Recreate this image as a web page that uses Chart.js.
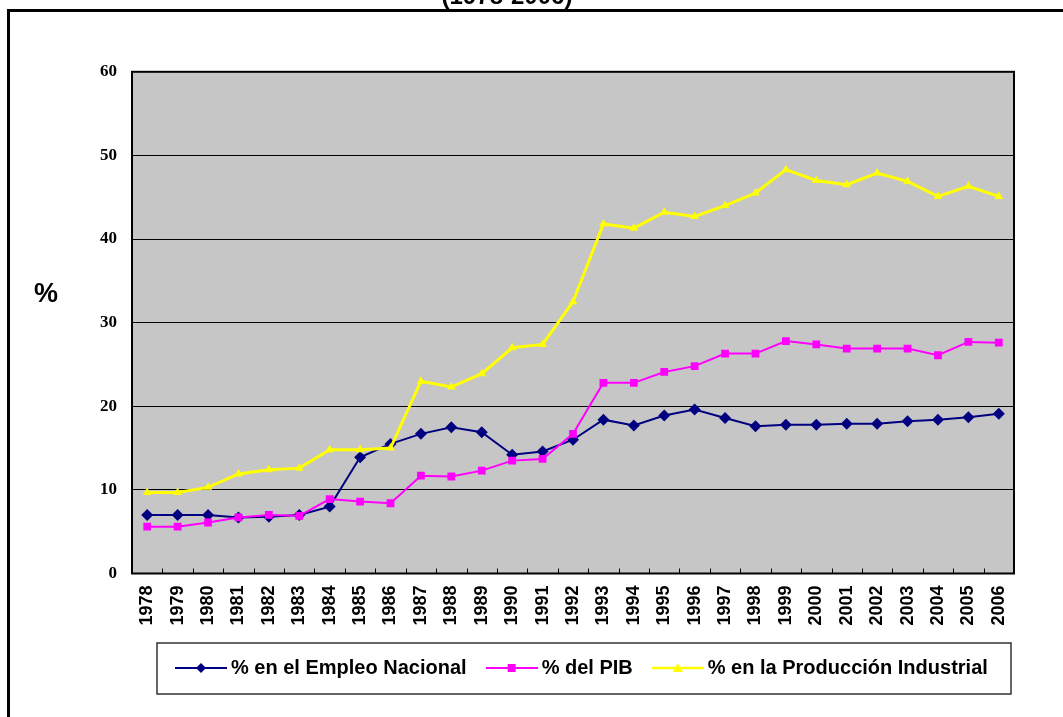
<!DOCTYPE html>
<html><head><meta charset="utf-8">
<script src="https://cdn.jsdelivr.net/npm/chart.js@4/dist/chart.umd.min.js"></script>
<style>
html,body{margin:0;padding:0;background:#fff;overflow:hidden;width:1063px;height:717px;}
#frame{position:absolute;left:7px;top:9px;width:2000px;height:2000px;border-left:3px solid #000;border-top:3px solid #000;box-sizing:border-box;}
#wrap{position:absolute;left:0;top:-17px;width:1063px;height:734px;}
</style></head><body>
<div id="frame"></div>
<div id="wrap"><canvas id="c" width="1063" height="734"></canvas></div>
<script>
const years = ['1978','1979','1980','1981','1982','1983','1984','1985','1986','1987','1988','1989','1990','1991','1992','1993','1994','1995','1996','1997','1998','1999','2000','2001','2002','2003','2004','2005','2006'];
const empleo = [7.0,7.0,7.0,6.7,6.8,7.0,8.0,13.9,15.5,16.7,17.5,16.9,14.2,14.6,16.0,18.4,17.7,18.9,19.6,18.6,17.6,17.8,17.8,17.9,17.9,18.2,18.4,18.7,19.1];
const pib = [5.6,5.6,6.1,6.7,7.0,6.9,8.9,8.6,8.4,11.7,11.6,12.3,13.5,13.7,16.7,22.8,22.8,24.1,24.8,26.3,26.3,27.8,27.4,26.9,26.9,26.9,26.1,27.7,27.6];
const produccion = [9.7,9.7,10.3,11.9,12.4,12.6,14.8,14.8,15.0,23.0,22.3,23.9,27.0,27.4,32.5,41.8,41.3,43.2,42.7,44.0,45.5,48.3,47.0,46.5,47.9,46.9,45.1,46.3,45.1];
const yTicks = [0,10,20,30,40,50,60];
const seriesNames = ['% en el Empleo Nacional','% del PIB','% en la Producción Industrial'];
const titleText = '(1978-2006)';
const axisTitle = '%';

const NAVY = '#000080', PINK = '#FF00FF', YEL = '#FFFF00';

function sample(color, shape, lw) {
  const c = document.createElement('canvas');
  c.width = 52; c.height = 16;
  const g = c.getContext('2d');
  g.strokeStyle = color; g.lineWidth = lw;
  g.beginPath(); g.moveTo(0, 8); g.lineTo(52, 8); g.stroke();
  g.fillStyle = color; g.beginPath();
  if (shape === 'diamond') { g.moveTo(26, 3); g.lineTo(31, 8); g.lineTo(26, 13); g.lineTo(21, 8); }
  else if (shape === 'square') { g.rect(22, 4, 8, 8); }
  else { g.moveTo(26, 3); g.lineTo(31, 12); g.lineTo(21, 12); }
  g.closePath(); g.fill();
  return c;
}
const samples = [sample(NAVY, 'diamond', 2), sample(PINK, 'square', 2), sample(YEL, 'triangle', 2.5)];

const decor = {
  id: 'decor',
  afterLayout(chart) {
    const lg = chart.legend;
    const shift = (chart.chartArea.left + 49 - 25) - lg.left;
    lg.left += shift; lg.right += shift;
  },
  beforeDraw(chart) {
    const a = chart.chartArea, ctx = chart.ctx;
    ctx.save();
    ctx.fillStyle = '#C6C6C6';
    ctx.fillRect(a.left, a.top, a.right - a.left, a.bottom - a.top);
    ctx.restore();
  },
  beforeDatasetsDraw(chart) {
    const a = chart.chartArea, ctx = chart.ctx, xs = chart.scales.x;
    ctx.save();
    ctx.strokeStyle = '#000';
    ctx.lineWidth = 1;
    ctx.beginPath();
    for (let i = 1; i < years.length; i++) {
      const x = Math.round((xs.getPixelForValue(i - 1) + xs.getPixelForValue(i)) / 2) + 0.5;
      ctx.moveTo(x, a.bottom); ctx.lineTo(x, a.bottom - 5);
    }
    ctx.stroke();
    ctx.lineWidth = 2;
    ctx.strokeRect(a.left, a.top, a.right - a.left, a.bottom - a.top);
    ctx.restore();
  },
  afterDraw(chart) {
    const a = chart.chartArea, ctx = chart.ctx, lg = chart.legend;
    ctx.save();
    ctx.strokeStyle = '#333';
    ctx.lineWidth = 1.5;
    ctx.strokeRect(a.left + 25, lg.top + 10, (a.right - 3) - (a.left + 25), 51);
    ctx.fillStyle = '#000';
    ctx.font = 'bold 27px "Liberation Sans", Arial, sans-serif';
    ctx.textBaseline = 'alphabetic';
    ctx.textAlign = 'left';
    ctx.fillText(axisTitle, 34, a.top + 230);
    ctx.restore();
  }
};

new Chart(document.getElementById('c'), {
  type: 'line',
  data: {
    labels: years,
    datasets: [
      { label: seriesNames[0], data: empleo, borderColor: NAVY, backgroundColor: NAVY, borderWidth: 2, pointStyle: 'rectRot', pointRadius: 6, pointBorderWidth: 0, tension: 0, order: 3 },
      { label: seriesNames[1], data: pib, borderColor: PINK, backgroundColor: PINK, borderWidth: 2, pointStyle: 'rect', pointRadius: 5.5, pointBorderWidth: 0, tension: 0, order: 2 },
      { label: seriesNames[2], data: produccion, borderColor: YEL, backgroundColor: YEL, borderWidth: 3, pointStyle: 'triangle', pointRadius: 5, pointBorderWidth: 0, tension: 0, order: 1 }
    ]
  },
  options: {
    responsive: false,
    animation: false,
    devicePixelRatio: 1,
    layout: { padding: { left: 0, right: 49, top: 0, bottom: 29 } },
    scales: {
      x: {
        offset: true,
        grid: { display: false, drawTicks: false },
        border: { display: false },
        ticks: { color: '#000', autoSkip: false, maxRotation: 90, minRotation: 90, padding: 12,
                 font: { family: '"Liberation Sans", Arial, sans-serif', size: 18, weight: 'bold' } },
        afterFit(s) { s.height = 59.5; }
      },
      y: {
        min: 0, max: 60,
        afterBuildTicks(s) { s.ticks = yTicks.map(v => ({ value: v })); },
        afterFit(s) { s.width = 132; },
        grid: { color: '#000', lineWidth: 1, drawTicks: false },
        border: { display: false },
        ticks: { color: '#000', padding: 15,
                 font: { family: '"Liberation Serif", "Times New Roman", serif', size: 17, weight: 'bold' } }
      }
    },
    plugins: {
      title: { display: true, text: titleText, color: '#000',
               font: { family: '"Liberation Sans", Arial, sans-serif', size: 24, weight: 'bold' },
               padding: { top: 0, bottom: 60 } },
      legend: {
        position: 'bottom', align: 'start',
        labels: {
          usePointStyle: true, pointStyleWidth: 40, padding: 25, color: '#000',
          font: { family: '"Liberation Sans", Arial, sans-serif', size: 20, weight: 'bold' },
          sort: (a, b) => a.datasetIndex - b.datasetIndex,
          generateLabels(chart) {
            const items = Chart.defaults.plugins.legend.labels.generateLabels(chart);
            items.forEach(it => { it.pointStyle = samples[it.datasetIndex]; });
            return items;
          }
        }
      },
      tooltip: { enabled: false }
    }
  },
  plugins: [decor]
});
</script>
</body></html>
